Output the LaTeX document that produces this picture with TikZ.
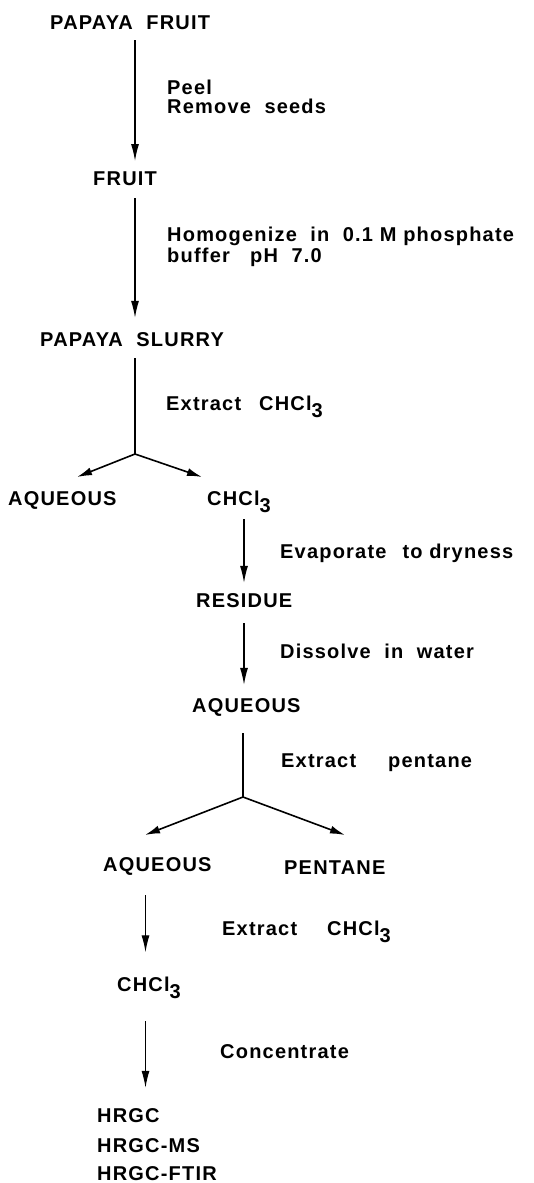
\documentclass[tikz,border=0pt]{standalone}
\usepackage{fontspec}
\setmainfont{Liberation Sans}
\newfontfamily\flowfont{Liberation Sans}[LetterSpace=6]
\usetikzlibrary{arrows.meta}

\newcommand{\chcl}{CHCl\raisebox{-7pt}{3}}

\begin{document}
\begin{tikzpicture}[x=1pt,y=-1pt,
  txt/.style={anchor=base west,inner sep=0pt,font=\flowfont\bfseries\fontsize{20}{24}\selectfont},
  arr/.style={-{Latex[length=17pt,width=8pt]},line width=1.3pt,shorten <=11pt,shorten >=10pt},
  seg/.style={line width=1.3pt,shorten <=12pt},
  fork/.style={-{Latex[length=15pt,width=8pt]},line width=1.6pt}]
  \useasboundingbox (0,0) rectangle (533,1183);
  % columns of the arrows
  \coordinate (c1) at (135,0);
  \coordinate (c2) at (244,0);
  \coordinate (c3) at (145.5,0);
  % steps
  \node[txt] (pf) at (50,29) {PAPAYA\ \ FRUIT};
  \node[txt] (peel) at (167,94) {Peel};
  \node[txt] (seeds) at (167,113) {Remove\ \ seeds};
  \node[txt] (fr) at (93,185) {FRUIT};
  \node[txt] (hom) at (167,241) {Homogenize\ \ in\ \ 0.1 M phosphate};
  \node[txt] (buf) at (167,262) {buffer\ \ \ pH\ \ 7.0};
  \node[txt] (ps) at (40,346) {PAPAYA\ \ SLURRY};
  \node[txt] (ex1) at (166,410) {Extract\hspace{18pt}\chcl};
  \node[txt] (aq1) at (8,505) {AQUEOUS};
  \node[txt] (ch1) at (207,505) {\chcl};
  \node[txt] (evap) at (280,558) {Evaporate\hspace{16pt}to dryness};
  \node[txt] (rs) at (196,607) {RESIDUE};
  \node[txt] (diss) at (280,658) {Dissolve\ \ in\ \ water};
  \node[txt] (aq2) at (192,712) {AQUEOUS};
  \node[txt] (ex2) at (281,767) {Extract\hspace{32pt}pentane};
  \node[txt] (aq3) at (103,871) {AQUEOUS};
  \node[txt] (pen) at (284,874) {PENTANE};
  \node[txt] (ex3) at (222,935) {Extract\hspace{30pt}\chcl};
  \node[txt] (ch3) at (117,991) {\chcl};
  \node[txt] (conc) at (220,1058) {Concentrate};
  \node[txt] (hr1) at (97,1122) {HRGC};
  \node[txt] (hr2) at (97,1152) {HRGC-MS};
  \node[txt] (hr3) at (97,1180) {HRGC-FTIR};
  % forks
  \coordinate (j1) at (135,454);
  \coordinate (j1l) at (77,477);
  \coordinate (j1r) at (202,477);
  \coordinate (j2) at (243,797);
  \coordinate (j2l) at (145,835);
  \coordinate (j2r) at (345,835);
  % connectors
  \draw[arr] (pf.south -| c1) -- (fr.north -| c1);
  \draw[arr,shorten <=13pt,shorten >=14pt] (fr.south -| c1) -- (ps.north -| c1);
  \draw[seg] (ps.south -| c1) -- (j1);
  \draw[fork] (j1) -- (j1l);
  \draw[fork] (j1) -- (j1r);
  \draw[arr,shorten <=7pt] (ch1.south -| c2) -- (rs.north -| c2);
  \draw[arr,shorten <=16pt,shorten >=13pt] (rs.south -| c2) -- (aq2.north -| c2);
  \draw[seg,shorten <=17pt] (aq2.south -| j2) -- (j2);
  \draw[fork] (j2) -- (j2l);
  \draw[fork] (j2) -- (j2r);
  \draw[arr,shorten <=20pt,shorten >=24pt] (aq3.south -| c3) -- (ch3.north -| c3);
  \draw[arr,shorten <=23pt,shorten >=20pt] (ch3.south -| c3) -- (hr1.north -| c3);
\end{tikzpicture}
\end{document}
